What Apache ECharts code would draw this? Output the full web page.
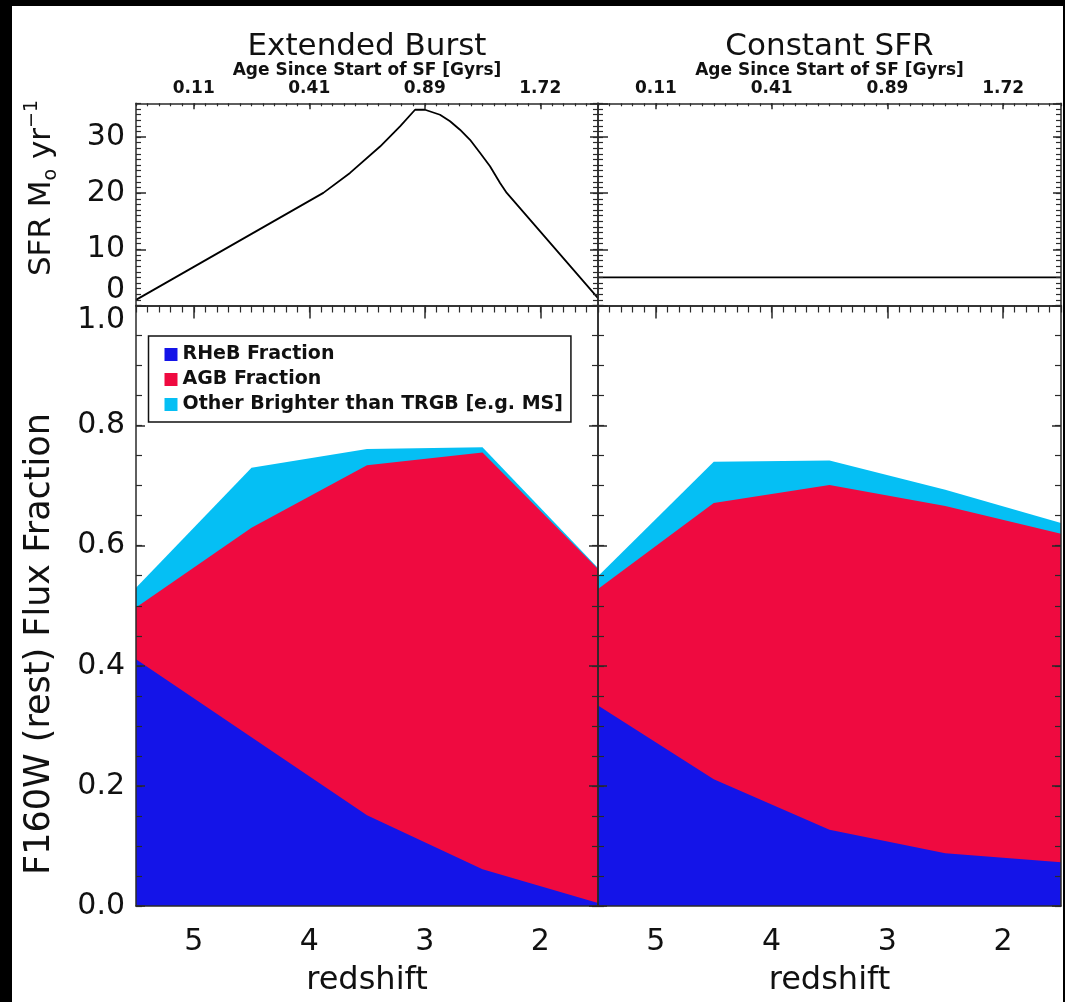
<!DOCTYPE html>
<html><head><meta charset="utf-8">
<script src="https://cdn.jsdelivr.net/npm/echarts@6/dist/echarts.min.js"></script>
<style>
html,body{margin:0;padding:0;background:#000;width:1065px;height:1002px;overflow:hidden}
#chart{position:absolute;left:12px;top:6px;width:1051px;height:996px;background:#fff}
</style></head><body><div id="chart"></div>
<script>
// ---- data ----
const redshiftTicks = [5, 4, 3, 2];
const ageTickLabels = ['0.11', '0.41', '0.89', '1.72'];
const zPoints = [5.5, 4.5, 3.5, 2.5, 1.5];
const burstRHeB  = [0.411, 0.281, 0.151, 0.061, 0.005];
const burstAGB   = [0.086, 0.349, 0.583, 0.694, 0.556];
const burstOther = [0.033, 0.100, 0.027, 0.009, 0.002];
const constRHeB  = [0.334, 0.211, 0.127, 0.088, 0.073];
const constAGB   = [0.194, 0.460, 0.574, 0.578, 0.547];
const constOther = [0.021, 0.069, 0.041, 0.027, 0.018];
const burstSfrZ  = [5.5, 3.878, 3.647, 3.387, 3.214, 3.084, 2.998, 2.868, 2.781, 2.695, 2.608, 2.522, 2.435, 2.348, 2.29, 1.5];
const burstSfr   = [1.0, 20.05, 23.6, 28.3, 31.9, 34.85, 34.85, 33.96, 32.8, 31.3, 29.5, 27.2, 24.8, 21.8, 20.05, 1.3];
const constSfrZ  = [5.5, 1.5];
const constSfr   = [5.0, 5.0];
const seriesNames = ['RHeB Fraction', 'AGB Fraction', 'Other Brighter than TRGB [e.g. MS]'];
const panelTitles = ['Extended Burst', 'Constant SFR'];

// ---- styles ----
const FONT = 'DejaVu Sans';
const TXT = '#111';
const LINE = '#2a2a2a';
const COLORS = ['#1414E8', '#EF0A40', '#05BFF4'];
const ls = {color: LINE, width: 1.5};

const grids = [
  {left: 124, top: 97.3, width: 462, height: 202.2},
  {left: 586, top: 97.3, width: 463, height: 202.2},
  {left: 124, top: 299.5, width: 462, height: 606.2},
  {left: 586, top: 299.5, width: 463, height: 606.2}
];

const xAxes = [], yAxes = [];
grids.forEach((g, gi) => {
  const isTop = gi < 2, isLeft = gi % 2 === 0;
  const bx = {type: 'value', gridIndex: gi, min: 1.5, max: 5.5, inverse: true, z: 5, splitLine: {show: false}};
  xAxes.push(Object.assign({}, bx, {
    position: 'bottom',
    axisLine: {show: true, onZero: false, lineStyle: ls},
    axisTick: {show: false},
    axisLabel: isTop ? {show: false} : {show: true, customValues: redshiftTicks, fontSize: 30, fontFamily: FONT, color: TXT, margin: 21},
    name: isTop ? '' : 'redshift', nameLocation: 'middle', nameGap: 59,
    nameTextStyle: {fontSize: 32, fontFamily: FONT, color: TXT}
  }));
  xAxes.push(Object.assign({}, bx, {
    position: 'top',
    axisLine: {show: true, onZero: false, lineStyle: ls},
    axisTick: {show: true, inside: true, customValues: redshiftTicks, length: isTop ? 6 : 13, lineStyle: ls},
    axisLabel: isTop ? {show: true, customValues: redshiftTicks, formatter: v => ageTickLabels[redshiftTicks.indexOf(v)],
      fontSize: 17, fontWeight: 'bold', fontFamily: FONT, color: TXT, margin: 6} : {show: false},
    name: isTop ? 'Age Since Start of SF [Gyrs]' : '', nameLocation: 'middle', nameGap: 23,
    nameTextStyle: {fontSize: 17, fontWeight: 'bold', fontFamily: FONT, color: TXT}
  }));
  xAxes.push(Object.assign({}, bx, {
    position: 'top', interval: 0.1,
    axisLine: {show: false, onZero: false},
    axisTick: {show: true, inside: true, length: isTop ? 3 : 7, lineStyle: {color: LINE, width: 1.2}},
    axisLabel: {show: false}
  }));
  const yr = isTop ? {min: 0, max: 36, interval: 10, minor: 1} : {min: 0, max: 1, interval: 0.2, minor: 0.05};
  ['left', 'right'].forEach(pos => {
    const showLab = isLeft && pos === 'left';
    yAxes.push({
      type: 'value', gridIndex: gi, position: pos, min: yr.min, max: yr.max, interval: yr.interval, z: 5,
      splitLine: {show: false},
      axisLine: {show: true, onZero: false, lineStyle: ls},
      axisTick: {show: true, inside: true, length: isTop ? (pos === 'left' ? 10 : 8) : 9, lineStyle: ls},
      axisLabel: showLab ? {
        show: true, fontSize: 30, fontFamily: FONT, color: TXT, margin: 11,
        showMaxLabel: !isTop,
        formatter: v => isTop ? String(v) : v.toFixed(1),
        verticalAlignMinLabel: isTop ? 'bottom' : null,
        verticalAlignMaxLabel: isTop ? null : 'top'
      } : {show: false}
    });
    yAxes.push({
      type: 'value', gridIndex: gi, position: pos, min: yr.min, max: yr.max, interval: yr.minor, z: 5,
      splitLine: {show: false},
      axisLine: {show: false, onZero: false},
      axisTick: {show: true, inside: true, length: isTop ? 5 : 6, lineStyle: {color: LINE, width: 1.2}},
      axisLabel: {show: false}
    });
  });
});

function pairs(xs, ys) { return xs.map((x, i) => [x, ys[i]]); }
// cumulative tops (stacked fractions) built from the component arrays
function cumulative(parts) {
  const out = [];
  let acc = zPoints.map(() => 0);
  parts.forEach(p => { acc = acc.map((a, i) => a + p[i]); out.push(acc.slice()); });
  return out;
}
function areaSeries(gi, parts) {
  const tops = cumulative(parts);
  return tops.map((v, k) => ({
    type: 'line', name: seriesNames[k],
    xAxisIndex: gi * 3, yAxisIndex: gi * 4,
    data: pairs(zPoints, v), symbol: 'none', showSymbol: false,
    color: COLORS[k], lineStyle: {width: 0}, areaStyle: {color: COLORS[k], opacity: 1},
    z: 4 - k
  }));
}

const series = [
  {type: 'line', xAxisIndex: 0, yAxisIndex: 0, data: pairs(burstSfrZ, burstSfr), symbol: 'none', showSymbol: false,
   lineStyle: {color: '#000', width: 1.8}, z: 3},
  {type: 'line', xAxisIndex: 3, yAxisIndex: 4, data: pairs(constSfrZ, constSfr), symbol: 'none', showSymbol: false,
   lineStyle: {color: '#000', width: 1.8}, z: 3}
].concat(areaSeries(2, [burstRHeB, burstAGB, burstOther]))
 .concat(areaSeries(3, [constRHeB, constAGB, constOther]));

const option = {
  animation: false,
  backgroundColor: 'transparent',
  grid: grids,
  xAxis: xAxes,
  yAxis: yAxes,
  legend: {
    data: seriesNames, orient: 'vertical', left: 136.5, top: 330,
    padding: [9, 8, 8, 16], itemGap: 6, itemWidth: 13, itemHeight: 13, icon: 'rect',
    borderColor: '#111', borderWidth: 1.5, backgroundColor: '#fff', z: 6,
    textStyle: {fontSize: 19, fontWeight: 'bold', fontFamily: FONT, color: TXT, lineHeight: 18}
  },
  graphic: [
    {type: 'text', x: 355, y: 41, style: {text: panelTitles[0], font: '31px "DejaVu Sans"', fill: TXT, align: 'center', verticalAlign: 'middle'}},
    {type: 'text', x: 817.5, y: 41, style: {text: panelTitles[1], font: '31px "DejaVu Sans"', fill: TXT, align: 'center', verticalAlign: 'middle'}},
    {type: 'text', x: 30, y: 182, rotation: Math.PI / 2, style: {
      text: 'SFR M{sub|o} yr{sup|−1}', fill: TXT, align: 'center', verticalAlign: 'middle',
      fontSize: 31, fontFamily: FONT, lineHeight: 38,
      rich: {sub: {fontSize: 19, fontFamily: FONT, fill: TXT, verticalAlign: 'bottom', lineHeight: 18},
             sup: {fontSize: 19, fontFamily: FONT, fill: TXT, verticalAlign: 'top', lineHeight: 18}}
    }},
    {type: 'text', x: 28, y: 638, rotation: Math.PI / 2, style: {
      text: 'F160W (rest) Flux Fraction', fill: TXT, align: 'center', verticalAlign: 'middle',
      fontSize: 35, fontFamily: FONT
    }}
  ],
  series: series
};
const chart = echarts.init(document.getElementById('chart'), null, {renderer: 'canvas'});
chart.setOption(option);
</script></body></html>
